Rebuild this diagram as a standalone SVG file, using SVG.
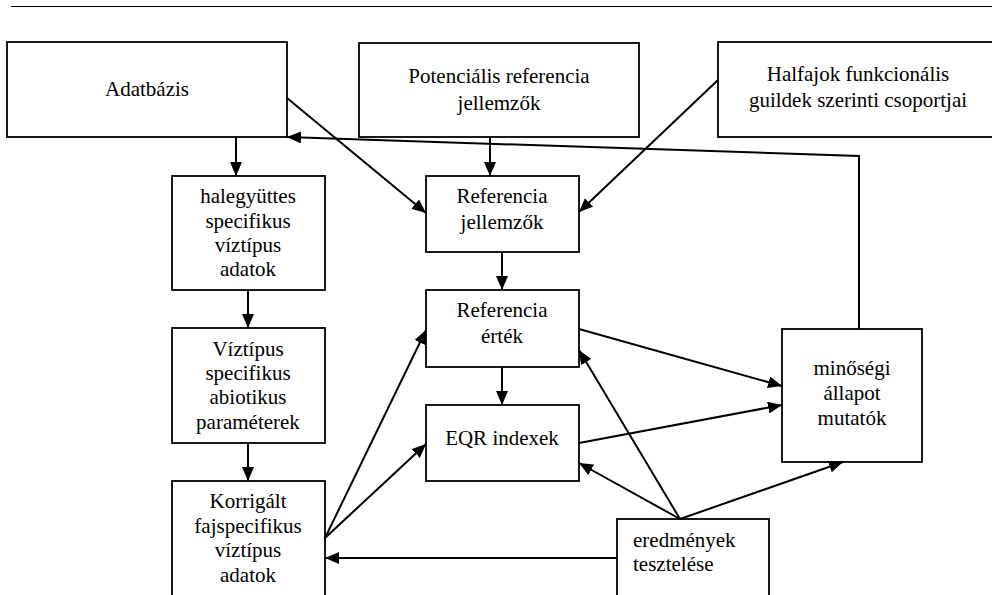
<svg xmlns="http://www.w3.org/2000/svg" width="992" height="595" viewBox="0 0 992 595">
<style>
.box{fill:#fff;stroke:#000;stroke-width:1.8}
.c{fill:none;stroke:#000;stroke-width:2}
</style>
<defs>
<marker id="ah" markerUnits="userSpaceOnUse" markerWidth="14" markerHeight="12" viewBox="0 0 14 12" refX="14" refY="6" orient="auto">
<path d="M0,0 L14,6 L0,12 Z" fill="#000"/>
</marker>
</defs>
<rect width="992" height="595" fill="#fff"/>
<line x1="11" y1="6.5" x2="992" y2="6.5" stroke="#000" stroke-width="1"/>

<g id="adatbazis"><rect class="box" x="7" y="42" width="280" height="95"/><text font-family="Liberation Serif, serif" font-size="21" text-anchor="middle" x="147" y="96">Adatbázis</text></g>
<g id="potencialis"><rect class="box" x="359" y="43" width="280" height="94"/><text font-family="Liberation Serif, serif" font-size="21" text-anchor="middle" x="499" y="83">Potenciális referencia</text><text font-family="Liberation Serif, serif" font-size="21" text-anchor="middle" x="499" y="110">jellemzők</text></g>
<g id="halfajok"><rect class="box" x="718" y="42" width="276" height="95"/><text font-family="Liberation Serif, serif" font-size="21" text-anchor="middle" x="858" y="81">Halfajok funkcionális</text><text font-family="Liberation Serif, serif" font-size="21" text-anchor="middle" x="858" y="107">guildek szerinti csoportjai</text></g>
<g id="haleguttes"><rect class="box" x="172" y="176" width="153" height="114"/><text font-family="Liberation Serif, serif" font-size="21" text-anchor="middle" x="248" y="203">halegyüttes</text><text font-family="Liberation Serif, serif" font-size="21" text-anchor="middle" x="248" y="228">specifikus</text><text font-family="Liberation Serif, serif" font-size="21" text-anchor="middle" x="248" y="252">víztípus</text><text font-family="Liberation Serif, serif" font-size="21" text-anchor="middle" x="248" y="276">adatok</text></g>
<g id="ref-jellemzok"><rect class="box" x="426" y="176" width="153" height="76"/><text font-family="Liberation Serif, serif" font-size="21" text-anchor="middle" x="502" y="203">Referencia</text><text font-family="Liberation Serif, serif" font-size="21" text-anchor="middle" x="502" y="229">jellemzők</text></g>
<g id="viztipus"><rect class="box" x="172" y="328" width="153" height="115"/><text font-family="Liberation Serif, serif" font-size="21" text-anchor="middle" x="248" y="356">Víztípus</text><text font-family="Liberation Serif, serif" font-size="21" text-anchor="middle" x="248" y="380">specifikus</text><text font-family="Liberation Serif, serif" font-size="21" text-anchor="middle" x="248" y="404">abiotikus</text><text font-family="Liberation Serif, serif" font-size="21" text-anchor="middle" x="248" y="429">paraméterek</text></g>
<g id="ref-ertek"><rect class="box" x="426" y="290" width="153" height="77"/><text font-family="Liberation Serif, serif" font-size="21" text-anchor="middle" x="502" y="317">Referencia</text><text font-family="Liberation Serif, serif" font-size="21" text-anchor="middle" x="502" y="343">érték</text></g>
<g id="eqr"><rect class="box" x="426" y="405" width="153" height="76"/><text font-family="Liberation Serif, serif" font-size="21" text-anchor="middle" x="502" y="445">EQR indexek</text></g>
<g id="korrigalt"><rect class="box" x="172" y="481" width="153" height="125"/><text font-family="Liberation Serif, serif" font-size="21" text-anchor="middle" x="248" y="508">Korrigált</text><text font-family="Liberation Serif, serif" font-size="21" text-anchor="middle" x="248" y="533">fajspecifikus</text><text font-family="Liberation Serif, serif" font-size="21" text-anchor="middle" x="248" y="557">víztípus</text><text font-family="Liberation Serif, serif" font-size="21" text-anchor="middle" x="248" y="582">adatok</text></g>
<g id="minosegi"><rect class="box" x="782" y="329" width="140" height="133"/><text font-family="Liberation Serif, serif" font-size="21" text-anchor="middle" x="852" y="375">minőségi</text><text font-family="Liberation Serif, serif" font-size="21" text-anchor="middle" x="852" y="400">állapot</text><text font-family="Liberation Serif, serif" font-size="21" text-anchor="middle" x="852" y="425">mutatók</text></g>
<g id="eredmenyek"><rect class="box" x="617" y="519" width="152" height="90"/><text font-family="Liberation Serif, serif" font-size="21" x="633" y="547">eredmények</text><text font-family="Liberation Serif, serif" font-size="21" x="633" y="571">tesztelése</text></g>

<g id="connectors">
<line class="c" x1="236" y1="137" x2="236" y2="176" marker-end="url(#ah)"/>
<line class="c" x1="490" y1="137" x2="490" y2="176" marker-end="url(#ah)"/>
<line class="c" x1="287" y1="98" x2="426" y2="213" marker-end="url(#ah)"/>
<line class="c" x1="718" y1="80" x2="579" y2="212" marker-end="url(#ah)"/>
<polyline class="c" points="859,329 859,156 287,137" marker-end="url(#ah)"/>
<line class="c" x1="502" y1="252" x2="502" y2="290" marker-end="url(#ah)"/>
<line class="c" x1="248" y1="290" x2="248" y2="328" marker-end="url(#ah)"/>
<line class="c" x1="248" y1="443" x2="248" y2="481" marker-end="url(#ah)"/>
<line class="c" x1="502" y1="367" x2="502" y2="405" marker-end="url(#ah)"/>
<line class="c" x1="325" y1="538" x2="426" y2="330" marker-end="url(#ah)"/>
<line class="c" x1="325" y1="538" x2="426" y2="444" marker-end="url(#ah)"/>
<line class="c" x1="617" y1="558" x2="325" y2="558" marker-end="url(#ah)"/>
<line class="c" x1="579" y1="329" x2="782" y2="386" marker-end="url(#ah)"/>
<line class="c" x1="579" y1="443" x2="782" y2="405" marker-end="url(#ah)"/>
<line class="c" x1="680" y1="519" x2="579" y2="350" marker-end="url(#ah)"/>
<line class="c" x1="680" y1="519" x2="579" y2="463" marker-end="url(#ah)"/>
<line class="c" x1="680" y1="519" x2="843" y2="462" marker-end="url(#ah)"/>
</g>
</svg>
